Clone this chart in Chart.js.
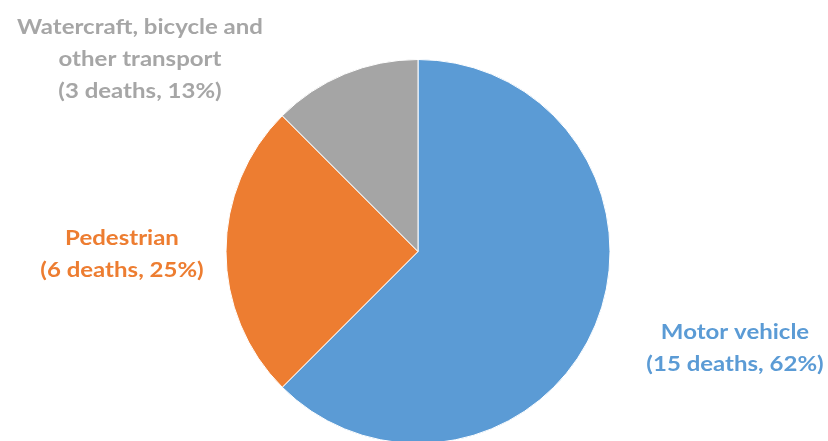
<!DOCTYPE html>
<html>
<head>
<meta charset="utf-8">
<script src="https://cdn.jsdelivr.net/npm/chart.js@4/dist/chart.umd.min.js"></script>
<style>
  html, body { margin: 0; padding: 0; background: #ffffff; overflow: hidden; }
  #wrap { width: 828px; height: 445px; position: relative; }
</style>
</head>
<body>
<div id="wrap"><canvas id="c" width="828" height="445"></canvas></div>
<script>
// Transport-related deaths by category
const categories = ['Motor vehicle', 'Pedestrian', 'Watercraft, bicycle and other transport'];
const deaths = [15, 6, 3];
const percentLabels = ['62%', '25%', '13%'];

const colors = ['#5B9BD5', '#ED7D31', '#A5A5A5'];
const textColors = ['#5B9BD5', '#ED7D31', '#A6A6A6'];

// Where each label block is centred, and how its first line wraps
const labelLayout = [
  { x: 735, y: 333, lines: ['Motor vehicle'] },
  { x: 122, y: 239, lines: ['Pedestrian'] },
  { x: 140, y: 28, lines: ['Watercraft, bicycle and', 'other transport'] }
];

const outsideLabels = {
  id: 'outsideLabels',
  afterDraw(chart) {
    const ctx = chart.ctx;
    const stretch = 1.2;
    const lineH = 32;
    deaths.forEach((d, i) => {
      const lay = labelLayout[i];
      const lines = lay.lines.concat(['(' + d + ' deaths, ' + percentLabels[i] + ')']);
      ctx.save();
      ctx.translate(lay.x, lay.y);
      ctx.scale(stretch, 1);
      ctx.font = 'bold 20px Lato, "Open Sans", sans-serif';
      ctx.textAlign = 'center';
      ctx.textBaseline = 'middle';
      ctx.fillStyle = textColors[i];
      lines.forEach((t, k) => ctx.fillText(t, 0, k * lineH));
      ctx.restore();
    });
  }
};

new Chart(document.getElementById('c'), {
  type: 'pie',
  data: {
    labels: categories,
    datasets: [{
      data: deaths,
      backgroundColor: colors,
      borderColor: '#ffffff',
      borderWidth: 1
    }]
  },
  options: {
    responsive: false,
    animation: false,
    layout: { padding: { top: 59, bottom: 1, left: 8, right: 0 } },
    plugins: {
      legend: { display: false },
      tooltip: { enabled: false }
    }
  },
  plugins: [outsideLabels]
});
</script>
</body>
</html>
